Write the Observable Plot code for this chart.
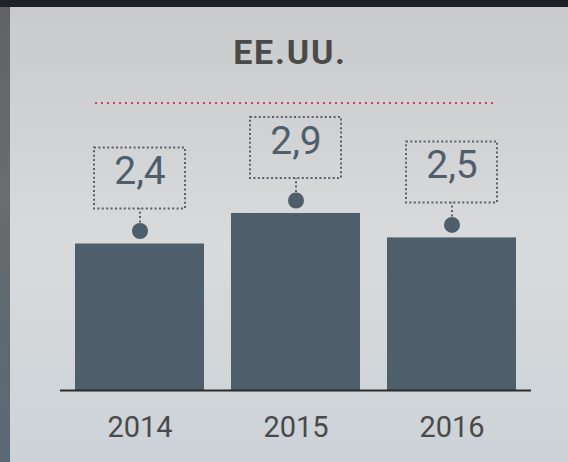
<!DOCTYPE html>
<html>
<head>
<meta charset="utf-8">
<script src="https://cdn.jsdelivr.net/npm/d3@7"></script>
<script src="https://cdn.jsdelivr.net/npm/@observablehq/plot@0.6"></script>
<style>
  html, body { margin: 0; padding: 0; }
  body { width: 568px; height: 462px; background: #1e2226; position: relative; overflow: hidden; font-family: Roboto, "Noto Sans", sans-serif; }
  #strip { position: absolute; left: 0; top: 7px; width: 10px; height: 455px;
    background: linear-gradient(#606263 0%, #6b6d6d 40%, #5e6870 70%, #5b6975 100%); }
  #panel { position: absolute; left: 10px; top: 7px; width: 558px; height: 455px;
    background: linear-gradient(#c9cacb 0%, #d2d3d4 30%, #d9dadb 52%, #d3d7da 72%, #ccd3d8 100%); }
  #title { position: absolute; left: 0; width: 580px; top: 35px; text-align: center;
    font: bold 34px/34px Roboto, sans-serif; letter-spacing: 1.8px; color: #4a4a4a; }
  #redline { position: absolute; left: 95px; top: 102px; width: 398px; height: 2px;
    background: repeating-linear-gradient(to right, #d8404c 0 2px, transparent 2px 6px); }
  #chart { position: absolute; left: 0; top: 108px; }
</style>
</head>
<body>
<div id="strip"></div>
<div id="panel"></div>
<div id="title">EE.UU.</div>
<div id="redline"></div>
<div id="chart"></div>
<script>
const years = ["2014", "2015", "2016"];
const values = [2.4, 2.9, 2.5];
const valueLabels = ["2,4", "2,9", "2,5"];

const data = years.map((year, i) => ({year, value: values[i], label: valueLabels[i]}));

const barColor = "#4f5e6b";
const boxColor = "#58626d";

const chart = Plot.plot({
  width: 568,
  height: 354,
  marginLeft: 60,
  marginRight: 37,
  marginTop: 0,
  marginBottom: 72,
  style: {background: "transparent", color: "#4a4a4a", fontFamily: "Roboto, sans-serif", overflow: "visible"},
  x: {type: "band", domain: years, paddingInner: 0.17, paddingOuter: 0.09, align: 0.5, label: null},
  y: {domain: [0, 4.62], axis: null},
  marks: [
    Plot.barY(data, {x: "year", y: "value", fill: barColor}),
    Plot.ruleY([0], {stroke: "#2b2b2b", strokeWidth: 2}),
    Plot.dot(data, {x: "year", y: "value", r: 8, fill: barColor, dy: -13}),
    Plot.ruleX(data, {x: "year", y1: "value", y2: "value", insetTop: 0, insetBottom: 14, dy: -21,
      stroke: boxColor, strokeWidth: 2, strokeDasharray: "2 2.4"}),
    Plot.barY(data, {x: "year", y1: "value", y2: "value", insetTop: -61, insetLeft: 19, insetRight: 19, dy: -35,
      fill: "none", stroke: boxColor, strokeWidth: 2, strokeDasharray: "2 2.4"}),
    Plot.text(data, {x: "year", y: "value", text: "label", dy: -72, fontSize: 39, fill: barColor}),
    Plot.axisX({tickSize: 0, tickPadding: 26, fontSize: 29, fill: "#4a4a4a", label: null})
  ]
});
document.getElementById("chart").appendChild(chart);
</script>
</body>
</html>
